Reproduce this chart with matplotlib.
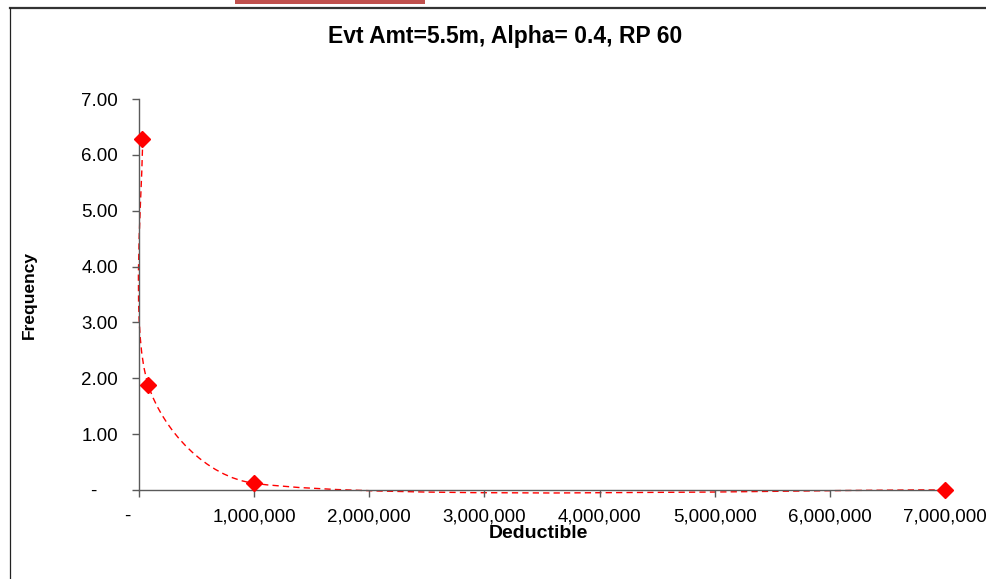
import numpy as np
import matplotlib
matplotlib.use("Agg")
import matplotlib.pyplot as plt
from matplotlib.path import Path
from matplotlib.patches import PathPatch, Rectangle
from matplotlib.lines import Line2D
from matplotlib.ticker import FuncFormatter, MultipleLocator

plt.rcParams['font.family'] = ['Liberation Sans', 'DejaVu Sans']

# data
deductible = [30000, 80000, 1000000, 7000000]
frequency = [6.28, 1.88, 0.12, 0.0]
title = "Evt Amt=5.5m, Alpha= 0.4, RP 60"
x_label = "Deductible"
y_label = "Frequency"


def smooth_path(ax, xs, ys):
    # Excel-like smoothed line, built in screen space then mapped back to data
    pts = ax.transData.transform(np.column_stack([xs, ys]).astype(float))
    n = len(pts)
    verts = [pts[0]]
    codes = [Path.MOVETO]
    for i in range(n - 1):
        p0, p1 = pts[i], pts[i + 1]
        seg = np.linalg.norm(p1 - p0)
        t0 = (p1 - (pts[i - 1] if i > 0 else p0))
        t1 = ((pts[i + 2] if i + 2 < n else p1) - p0)
        d0 = min(np.linalg.norm(t0) / 6.0, seg / 3.0)
        d1 = min(np.linalg.norm(t1) / 6.0, seg / 3.0)
        c1 = p0 + t0 / np.linalg.norm(t0) * d0
        c2 = p1 - t1 / np.linalg.norm(t1) * d1
        verts += [c1, c2, p1]
        codes += [Path.CURVE4] * 3
    verts = ax.transData.inverted().transform(np.array(verts))
    return Path(verts, codes)


fig = plt.figure(figsize=(9.86, 5.79), dpi=100)
ax = fig.add_axes([139 / 986, 89 / 579, 806 / 986, 391 / 579])

ax.set_xlim(0, 7000000)
ax.set_ylim(0, 7)

patch = PathPatch(smooth_path(ax, deductible, frequency), facecolor='none',
                  edgecolor='#ff0000', linewidth=1.0, linestyle=(0, (4.5, 3)),
                  clip_on=False)
ax.add_patch(patch)
ax.plot(deductible, frequency, linestyle='none', marker='D', markersize=8.5,
        color='#ff0000', markeredgecolor='#ff0000', zorder=5, clip_on=False)

ax.xaxis.set_major_locator(MultipleLocator(1000000))
ax.yaxis.set_major_locator(MultipleLocator(1.0))
ax.xaxis.set_major_formatter(FuncFormatter(
    lambda v, p: "-    " if v == 0 else f"{v:,.0f}"))
ax.yaxis.set_major_formatter(FuncFormatter(
    lambda v, p: "-    " if v == 0 else f"{v:.2f}"))

for side in ['top', 'right']:
    ax.spines[side].set_visible(False)
for side in ['left', 'bottom']:
    ax.spines[side].set_color('#5a5a5a')
    ax.spines[side].set_linewidth(1.0)
ax.tick_params(axis='both', direction='out', length=5, width=1.0,
               color='#5a5a5a', labelsize=13.5, labelcolor='black')
ax.tick_params(axis='x', pad=8)
ax.tick_params(axis='y', pad=10)

fig.text(505 / 986, 1 - 37 / 579, title, ha='center', va='center',
         fontsize=16.5, fontweight='bold')
fig.text(538 / 986, 1 - 533 / 579, x_label, ha='center', va='center',
         fontsize=14, fontweight='bold')
fig.text(29 / 986, 1 - 295 / 579, y_label, ha='center', va='center',
         rotation=90, fontsize=12.5, fontweight='bold')

# outer chart frame and tab strip
fig.add_artist(Line2D([10 / 986, 1], [1 - 7.5 / 579, 1 - 7.5 / 579],
                      transform=fig.transFigure, color='#333333', linewidth=1.6))
fig.add_artist(Line2D([10 / 986, 10 / 986], [0, 1 - 7.5 / 579],
                      transform=fig.transFigure, color='#222222', linewidth=0.9))
fig.add_artist(Rectangle((235 / 986, 1 - 4 / 579), 190 / 986, 4 / 579,
                         transform=fig.transFigure, color='#c0504d', linewidth=0))

fig.savefig("out.png", dpi=100)
